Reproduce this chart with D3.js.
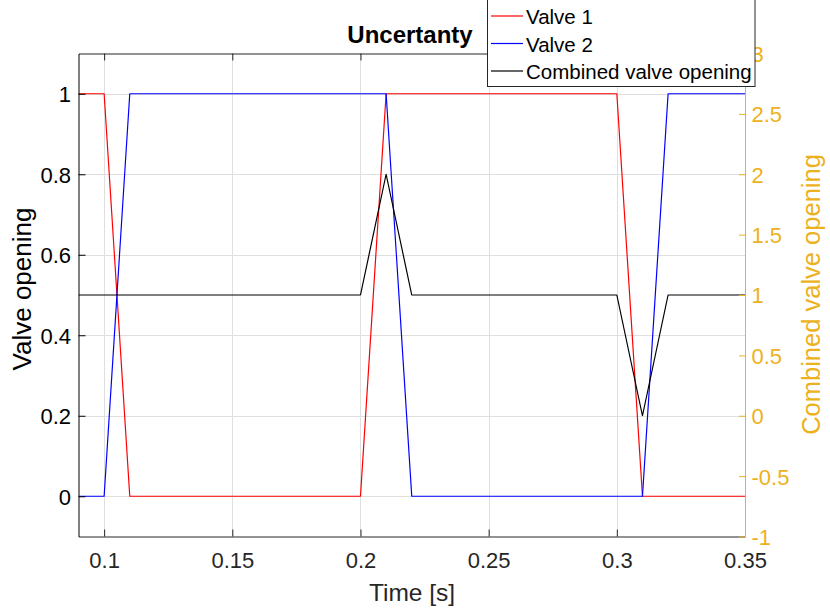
<!DOCTYPE html>
<html>
<head>
<meta charset="utf-8">
<script src="https://cdn.jsdelivr.net/npm/d3@7"></script>
<style>
  body { margin: 0; background: #fff; }
  svg { display: block; font-family: "Liberation Sans", Arial, Helvetica, sans-serif; }
</style>
</head>
<body>
<svg id="chart" width="830" height="608"></svg>
<script>
// Sample times [s]
const time = [0.09, 0.10, 0.11, 0.12, 0.13, 0.14, 0.15, 0.16, 0.17, 0.18, 0.19,
              0.20, 0.21, 0.22, 0.23, 0.24, 0.25, 0.26, 0.27, 0.28, 0.29,
              0.30, 0.31, 0.32, 0.33, 0.34, 0.35];
// Opening of each valve (0 = closed, 1 = open)
const valve1 = [1, 1, 0, 0, 0, 0, 0, 0, 0, 0, 0,
                0, 1, 1, 1, 1, 1, 1, 1, 1, 1,
                1, 0, 0, 0, 0, 0];
const valve2 = [0, 0, 1, 1, 1, 1, 1, 1, 1, 1, 1,
                1, 1, 0, 0, 0, 0, 0, 0, 0, 0,
                0, 0, 1, 1, 1, 1];
// Sum of both openings (right axis)
const combined = [1, 1, 1, 1, 1, 1, 1, 1, 1, 1, 1,
                  1, 2, 1, 1, 1, 1, 1, 1, 1, 1,
                  1, 0, 1, 1, 1, 1];

const xTicks = [0.1, 0.15, 0.2, 0.25, 0.3, 0.35];
const xTickLabels = ["0.1", "0.15", "0.2", "0.25", "0.3", "0.35"];
const leftTicks = [0, 0.2, 0.4, 0.6, 0.8, 1];
const leftTickLabels = ["0", "0.2", "0.4", "0.6", "0.8", "1"];
const rightTicks = [-1, -0.5, 0, 0.5, 1, 1.5, 2, 2.5, 3];
const rightTickLabels = ["-1", "-0.5", "0", "0.5", "1", "1.5", "2", "2.5", "3"];
const seriesNames = ["Valve 1", "Valve 2", "Combined valve opening"];
const seriesColors = ["#ff0000", "#0000ff", "#000000"];

const svg = d3.select("#chart");
const plot = { left: 78.5, right: 745, top: 53.5, bottom: 536.5 };
const axisGray = "#262626";
const orange = "#EDB120";

const x = d3.scaleLinear().domain([0.09, 0.35]).range([plot.left, plot.right]);
const yL = d3.scaleLinear().domain([-0.1, 1.1]).range([plot.bottom, plot.top]);
const yR = d3.scaleLinear().domain([-1, 3]).range([plot.bottom, plot.top]);

// clip region for the data lines
svg.append("defs").append("clipPath").attr("id", "plotClip")
  .append("rect")
  .attr("x", plot.left).attr("y", plot.top)
  .attr("width", plot.right - plot.left).attr("height", plot.bottom - plot.top);

// grid
const grid = svg.append("g").attr("stroke", "#dfdfdf").attr("stroke-width", 1);
grid.selectAll("line.gx").data(xTicks).join("line").attr("class", "gx")
  .attr("x1", d => Math.round(x(d)) + 0.5).attr("x2", d => Math.round(x(d)) + 0.5)
  .attr("y1", plot.top).attr("y2", plot.bottom);
grid.selectAll("line.gy").data(leftTicks).join("line").attr("class", "gy")
  .attr("y1", d => Math.round(yL(d)) + 0.5).attr("y2", d => Math.round(yL(d)) + 0.5)
  .attr("x1", plot.left).attr("x2", plot.right);

// data lines
const lines = svg.append("g").attr("clip-path", "url(#plotClip)").attr("fill", "none")
  .attr("stroke-width", 1.2).attr("stroke-linejoin", "round");
const lineL = d3.line().x((d, i) => x(time[i])).y(d => yL(d));
const lineR = d3.line().x((d, i) => x(time[i])).y(d => yR(d));
lines.append("path").attr("d", lineL(valve1)).attr("stroke", seriesColors[0]);
lines.append("path").attr("d", lineL(valve2)).attr("stroke", seriesColors[1]);
lines.append("path").attr("d", lineR(combined)).attr("stroke", seriesColors[2]);

// axes
function styleAxis(g, color, fontSize) {
  g.selectAll(".domain").attr("stroke", color).attr("stroke-width", 1);
  g.selectAll(".tick line").attr("stroke", color).attr("stroke-width", 1);
  g.selectAll(".tick text").attr("fill", color)
    .attr("font-size", fontSize).attr("font-family", "Liberation Sans, Arial, sans-serif");
}

const xAxisTop = svg.append("g").attr("transform", `translate(0,${plot.top})`)
  .call(d3.axisTop(x).tickValues(xTicks).tickFormat("").tickSizeInner(-7).tickSizeOuter(0));
styleAxis(xAxisTop, axisGray, 22);

const xAxis = svg.append("g").attr("transform", `translate(0,${plot.bottom})`)
  .call(d3.axisBottom(x).tickValues(xTicks).tickFormat((d, i) => xTickLabels[i])
    .tickSizeInner(-7).tickSizeOuter(0).tickPadding(15.5));
styleAxis(xAxis, axisGray, 22);

const yAxisL = svg.append("g").attr("transform", `translate(${plot.left},0)`)
  .call(d3.axisLeft(yL).tickValues(leftTicks).tickFormat((d, i) => leftTickLabels[i])
    .tickSizeInner(-7).tickSizeOuter(0).tickPadding(7.5));
styleAxis(yAxisL, "#000", 22);
yAxisL.selectAll(".tick text").attr("dy", "0.36em");

const yAxisR = svg.append("g").attr("transform", `translate(${plot.right},0)`)
  .call(d3.axisRight(yR).tickValues(rightTicks).tickFormat((d, i) => rightTickLabels[i])
    .tickSizeInner(-6).tickSizeOuter(0).tickPadding(6.5));
styleAxis(yAxisR, orange, 22);
yAxisR.selectAll(".tick text").attr("dy", "0.36em");

// axis titles
svg.append("text").attr("x", 412).attr("y", 601).attr("text-anchor", "middle")
  .attr("font-size", 24.5).attr("fill", axisGray).text("Time [s]");
svg.append("text").attr("transform", "translate(31,289) rotate(-90)").attr("text-anchor", "middle")
  .attr("font-size", 26).attr("fill", "#000").text("Valve opening");
svg.append("text").attr("transform", "translate(820,294.5) rotate(-90)").attr("text-anchor", "middle")
  .attr("font-size", 25.5).attr("fill", orange).text("Combined valve opening");
svg.append("text").attr("x", 410).attr("y", 43.3).attr("text-anchor", "middle")
  .attr("font-size", 24).attr("font-weight", "bold").attr("fill", "#000").text("Uncertanty");

// legend
const legend = svg.append("g");
legend.append("rect").attr("x", 487.5).attr("y", -3).attr("width", 267.5).attr("height", 89.5)
  .attr("fill", "#fff").attr("stroke", axisGray).attr("stroke-width", 1);
const rowY = [16, 43.5, 71];
seriesNames.forEach((name, i) => {
  legend.append("line").attr("x1", 491).attr("x2", 523).attr("y1", rowY[i]).attr("y2", rowY[i])
    .attr("stroke", seriesColors[i]).attr("stroke-width", 1.2);
  legend.append("text").attr("x", 526).attr("y", rowY[i] + 8)
    .attr("font-size", 20.5).attr("fill", "#000").text(name);
});
</script>
</body>
</html>
